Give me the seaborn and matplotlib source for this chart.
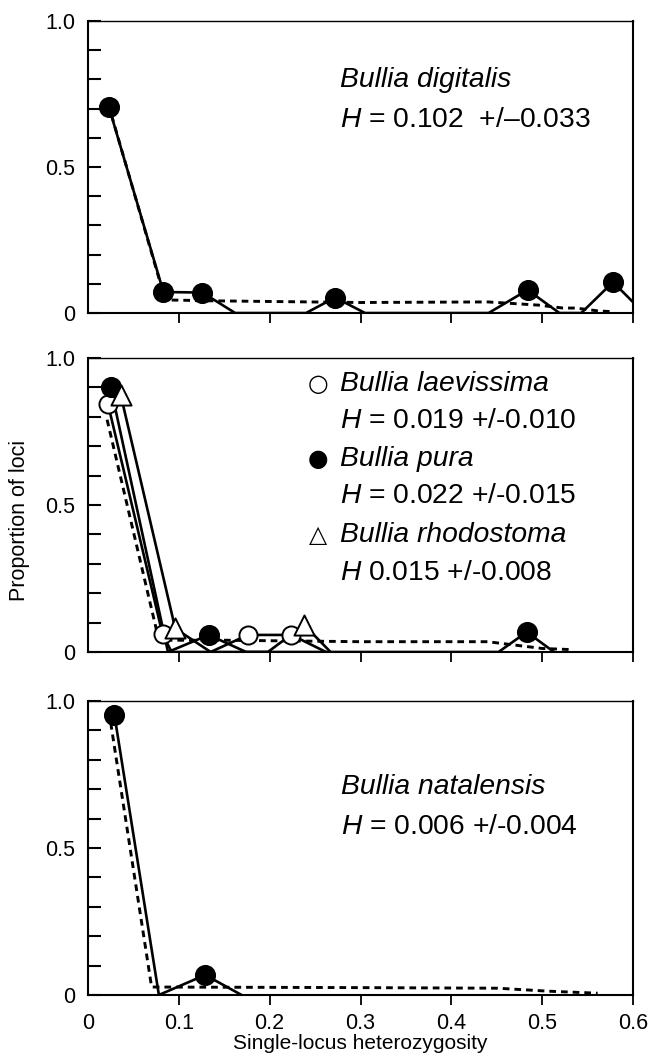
import matplotlib
matplotlib.use("Agg")
from matplotlib import pyplot as plt
from matplotlib.ticker import MultipleLocator, FixedLocator
import seaborn as sns

# ---- data ----
# Bullia digitalis (top): observed polygon (solid) and its marker points
dig_line_x = [0.023, 0.083, 0.126, 0.162, 0.240, 0.272, 0.305, 0.441, 0.484, 0.519, 0.543, 0.578, 0.612]
dig_line_y = [0.705, 0.072, 0.070, 0.0, 0.0, 0.053, 0.0, 0.0, 0.079, 0.0, 0.0, 0.106, 0.0]
dig_pts_x = [0.023, 0.083, 0.126, 0.272, 0.484, 0.578]
dig_pts_y = [0.705, 0.072, 0.070, 0.053, 0.079, 0.106]
dig_exp_x = [0.026, 0.085, 0.130, 0.300, 0.440, 0.496, 0.523, 0.537, 0.562, 0.576]
dig_exp_y = [0.676, 0.045, 0.042, 0.036, 0.038, 0.027, 0.017, 0.017, 0.007, 0.005]

# middle: Bullia laevissima (open circles), B. pura (filled), B. rhodostoma (triangles)
lae_line_x = [0.022, 0.082, 0.092, 0.135, 0.176, 0.224, 0.262]
lae_line_y = [0.843, 0.061, 0.0, 0.0, 0.058, 0.058, 0.0]
lae_pts_x = [0.022, 0.082, 0.176, 0.224]
lae_pts_y = [0.843, 0.061, 0.058, 0.058]
pur_line_x = [0.025, 0.088, 0.133, 0.174, 0.452, 0.483, 0.513]
pur_line_y = [0.900, 0.0, 0.058, 0.0, 0.0, 0.068, 0.0]
pur_pts_x = [0.025, 0.133, 0.483]
pur_pts_y = [0.900, 0.058, 0.068]
rho_line_x = [0.036, 0.096, 0.135, 0.198, 0.238, 0.267]
rho_line_y = [0.874, 0.080, 0.0, 0.0, 0.092, 0.0]
rho_pts_x = [0.036, 0.096, 0.238]
rho_pts_y = [0.874, 0.080, 0.092]
mid_exp_x = [0.021, 0.078, 0.150, 0.300, 0.440, 0.500, 0.533]
mid_exp_y = [0.790, 0.040, 0.040, 0.035, 0.035, 0.012, 0.008]

# Bullia natalensis (bottom)
nat_line_x = [0.029, 0.078, 0.129, 0.169]
nat_line_y = [0.953, 0.0, 0.068, 0.0]
nat_pts_x = [0.029, 0.129]
nat_pts_y = [0.953, 0.068]
nat_exp_x = [0.025, 0.070, 0.300, 0.451, 0.506, 0.561]
nat_exp_y = [0.925, 0.027, 0.025, 0.023, 0.013, 0.006]

x_ticks = [0.0, 0.1, 0.2, 0.3, 0.4, 0.5, 0.6]
x_ticklabels = ["0", "0.1", "0.2", "0.3", "0.4", "0.5", "0.6"]

sns.set_theme(style="ticks")
plt.rcParams["font.family"] = ["Liberation Sans", "DejaVu Sans"]
plt.rcParams["mathtext.fontset"] = "custom"
plt.rcParams["mathtext.it"] = "Liberation Sans:italic"
plt.rcParams["mathtext.rm"] = "Liberation Sans"
for key in ("text.color", "axes.labelcolor", "xtick.color", "ytick.color"):
    plt.rcParams[key] = "black"

fig = plt.figure(figsize=(6.55, 10.55), dpi=100)
ax_top = fig.add_axes([0.1344, 0.7033, 0.832, 0.2768])
ax_mid = fig.add_axes([0.1344, 0.3820, 0.832, 0.2787])
ax_bot = fig.add_axes([0.1344, 0.0569, 0.832, 0.2787])

LW = 1.9
DASH = (2.3, 1.7)
TXT = 20.3
TICK = 15.5


def draw_obs(ax, lx, ly, px, py, marker, filled, size):
    sns.lineplot(x=lx, y=ly, sort=False, estimator=None, color="black",
                 linewidth=LW, ax=ax)
    sns.scatterplot(x=px, y=py, marker=marker, s=size, ax=ax, zorder=5,
                    facecolor="black" if filled else "white",
                    edgecolor="black", linewidth=1.4, clip_on=False)


def draw_exp(ax, ex, ey):
    sns.lineplot(x=ex, y=ey, sort=False, estimator=None, color="black",
                 linewidth=2.1, ax=ax, linestyle=(0, DASH))


def style_axis(ax, bottom_labels):
    ax.set_xlim(0, 0.6)
    ax.set_ylim(0, 1.0)
    for sp in ax.spines.values():
        sp.set_linewidth(1.5)
        sp.set_color("black")
    ax.spines["top"].set_linewidth(1.0)
    ax.yaxis.set_major_locator(FixedLocator([0, 0.5, 1.0]))
    ax.set_yticklabels(["0", "0.5", "1.0"])
    ax.yaxis.set_minor_locator(MultipleLocator(0.1))
    ax.tick_params(axis="y", which="both", direction="in", length=9.5,
                   width=1.5, labelsize=TICK, pad=9, right=False)
    ax.xaxis.set_major_locator(FixedLocator(x_ticks))
    ax.tick_params(axis="x", which="both", direction="out", length=7,
                   width=1.3, labelsize=TICK, pad=6, top=False)
    if bottom_labels:
        ax.set_xticklabels(x_ticklabels)
    else:
        ax.set_xticklabels([])
    # no tick stub at x = 0
    ax.xaxis.get_major_ticks()[0].tick1line.set_visible(False)
    ax.set_xlabel("")
    ax.set_ylabel("")


# top panel
draw_exp(ax_top, dig_exp_x, dig_exp_y)
draw_obs(ax_top, dig_line_x, dig_line_y, dig_pts_x, dig_pts_y, "o", True, 190)
style_axis(ax_top, False)
ax_top.text(0.462, 0.797, "Bullia digitalis", style="italic", fontsize=TXT,
            transform=ax_top.transAxes, va="center")
ax_top.text(0.462, 0.660, "$H$ = 0.102  +/\u20130.033",
            fontsize=TXT, transform=ax_top.transAxes, va="center")

# middle panel
draw_exp(ax_mid, mid_exp_x, mid_exp_y)
draw_obs(ax_mid, lae_line_x, lae_line_y, lae_pts_x, lae_pts_y, "o", False, 170)
draw_obs(ax_mid, pur_line_x, pur_line_y, pur_pts_x, pur_pts_y, "o", True, 190)
draw_obs(ax_mid, rho_line_x, rho_line_y, rho_pts_x, rho_pts_y, "^", False, 210)
style_axis(ax_mid, False)
rows = [
    ("\u25cb", "Bullia laevissima", "$H$ = 0.019 +/-0.010"),
    ("\u25cf", "Bullia pura", "$H$ = 0.022 +/-0.015"),
    ("\u25b3", "Bullia rhodostoma", "$H$ 0.015 +/-0.008"),
]
row_y = [0.912, 0.657, 0.397]
for (sym, name, hval), yy in zip(rows, row_y):
    ax_mid.text(0.422, yy, sym, fontsize=17, family=["DejaVu Sans"],
                transform=ax_mid.transAxes, va="center", ha="center")
    ax_mid.text(0.462, yy, name, style="italic", fontsize=TXT,
                transform=ax_mid.transAxes, va="center")
    ax_mid.text(0.462, yy - 0.127, hval, fontsize=TXT,
                transform=ax_mid.transAxes, va="center")
ax_mid.set_ylabel("Proportion of loci", fontsize=15.5)
ax_mid.yaxis.set_label_coords(-0.106, 0.449)

# bottom panel
draw_exp(ax_bot, nat_exp_x, nat_exp_y)
draw_obs(ax_bot, nat_line_x, nat_line_y, nat_pts_x, nat_pts_y, "o", True, 190)
style_axis(ax_bot, True)
ax_bot.text(0.465, 0.707, "Bullia natalensis", style="italic", fontsize=TXT,
            transform=ax_bot.transAxes, va="center")
ax_bot.text(0.465, 0.571, "$H$ = 0.006 +/-0.004", fontsize=TXT,
            transform=ax_bot.transAxes, va="center")
ax_bot.set_xlabel("Single-locus heterozygosity", fontsize=15, labelpad=0)

for ax in (ax_top, ax_mid, ax_bot):
    leg = ax.get_legend()
    if leg is not None:
        leg.remove()

fig.savefig("out.png", dpi=100)
